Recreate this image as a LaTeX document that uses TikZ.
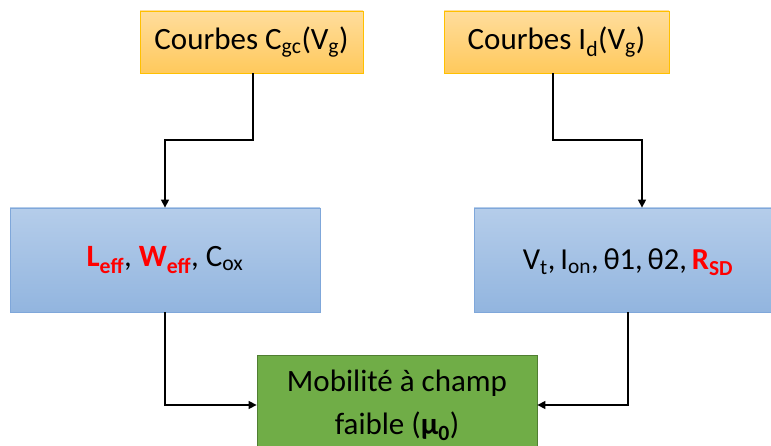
\documentclass[tikz,border=0pt]{standalone}
\usepackage{fontspec}
\setmainfont{Carlito}
\usetikzlibrary{arrows.meta,calc}
\definecolor{orTop}{HTML}{FFDD9C}
\definecolor{orBot}{HTML}{FFC95C}
\definecolor{orLine}{HTML}{FFC000}
\definecolor{blTop}{HTML}{B5CDEA}
\definecolor{blBot}{HTML}{92B5DF}
\definecolor{blLine}{HTML}{7FA7DA}
\definecolor{grFill}{HTML}{70AD47}
\definecolor{grLine}{HTML}{507E32}
\definecolor{redtxt}{HTML}{FF0000}
\tikzset{
  orbox/.style={draw=orLine, line width=0.8pt, top color=orTop, bottom color=orBot, minimum height=62pt, inner sep=0pt, font=\fontsize{31}{38}\selectfont},
  blbox/.style={draw=blLine, line width=0.8pt, top color=blTop, bottom color=blBot, minimum height=104pt, inner sep=0pt, font=\fontsize{31}{38}\selectfont},
  grbox/.style={draw=grLine, line width=0.8pt, fill=grFill, minimum height=100pt, minimum width=280pt, inner sep=0pt, align=center, font=\fontsize{31}{43}\selectfont},
  lbl/.style={inner sep=0pt, font=\fontsize{30.5}{38}\selectfont},
  arr/.style={line width=1.4pt, -{Triangle[length=8pt,width=8pt]}},
}
\newcommand{\rb}[1]{\textcolor{redtxt}{\textbf{#1}}}
\begin{document}
\begin{tikzpicture}[x=1pt,y=-1pt]
\useasboundingbox (0,0) rectangle (771,446);
\clip (0,0) rectangle (771,446);
\node[orbox, minimum width=223pt] (tl) at (251.5,42) {Courbes C\textsubscript{gc}(V\textsubscript{g})};
\node[orbox, minimum width=225pt] (tr) at (556.5,42) {Courbes I\textsubscript{d}(V\textsubscript{g})};
\node[blbox, minimum width=310pt] (bl) at (165,260) {\rb{L\textsubscript{eff}}, \rb{W\textsubscript{eff}}, C\textsubscript{ox}};
\node[blbox, minimum width=336pt] (br) at (642,260) {};
\node[lbl] (brt) at (628,262) {\spaceskip=0.16em V\textsubscript{t}, I\textsubscript{on}, θ1, θ2, \rb{R\textsubscript{SD}}};
\node[grbox] (gr) at (397,405) {Mobilité à champ\\faible (\textbf{μ\textsubscript{0}})};
\coordinate (jl) at (253,140);
\coordinate (jr) at (553,140);
\draw[arr] (tl.south -| jl) -- (jl) -| (bl.north);
\draw[arr] (tr.south -| jr) -- (jr) -| (br.north);
\draw[arr] (bl.south) |- (gr.west);
\draw[arr] (br.south -| brt) |- (gr.east);
\end{tikzpicture}
\end{document}
